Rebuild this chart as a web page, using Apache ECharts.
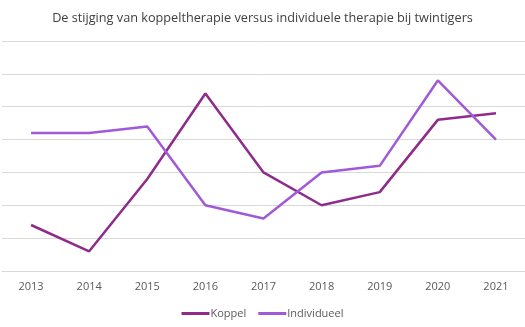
<!DOCTYPE html>
<html>
<head>
<meta charset="utf-8">
<script src="https://cdn.jsdelivr.net/npm/echarts@6/dist/echarts.min.js"></script>
<style>
html,body{margin:0;padding:0;background:#fff;}
#c{width:525px;height:327px;}
</style>
</head>
<body>
<div id="c"></div>
<script>
const years = ['2013','2014','2015','2016','2017','2018','2019','2020','2021'];
const koppel = [1.4, 0.6, 2.8, 5.4, 3.0, 2.0, 2.4, 4.6, 4.8];
const individueel = [4.2, 4.2, 4.4, 2.0, 1.6, 3.0, 3.2, 5.8, 4.0];

const chart = echarts.init(document.getElementById('c'), null, {renderer:'canvas'});
const FONT = '"Open Sans", "Noto Sans", sans-serif';
chart.setOption({
  animation: false,
  backgroundColor: '#ffffff',
  title: {
    text: 'De stijging van koppeltherapie versus individuele therapie bij twintigers',
    left: 'center', top: 7,
    textStyle: {fontFamily: FONT, fontSize: 12.7, fontWeight: 'normal', color: '#404040'}
  },
  legend: {
    bottom: 3, left: 'center',
    itemWidth: 28, itemHeight: 3, itemGap: 12,
    icon: 'rect',
    textStyle: {fontFamily: FONT, fontSize: 11, color: '#595959', padding: [0,0,0,-4]},
    data: ['Koppel', 'Individueel']
  },
  grid: {left: 2, top: 41, height: 230, width: 531, containLabel: false},
  xAxis: {
    type: 'category', data: years, boundaryGap: true,
    axisLine: {lineStyle: {color: '#D9D9D9'}},
    axisTick: {show: false},
    axisLabel: {fontFamily: FONT, fontSize: 11, color: '#595959', margin: 10}
  },
  yAxis: {
    type: 'value', min: 0, max: 7, interval: 1,
    axisLabel: {show: false}, axisLine: {show: false}, axisTick: {show: false},
    splitLine: {lineStyle: {color: '#D9D9D9', width: 1}}
  },
  series: [
    {name: 'Koppel', type: 'line', data: koppel, symbol: 'none',
     lineStyle: {color: '#8E2B8B', width: 2.5}, itemStyle: {color: '#8E2B8B'}},
    {name: 'Individueel', type: 'line', data: individueel, symbol: 'none',
     lineStyle: {color: '#A05AD8', width: 2.5}, itemStyle: {color: '#A05AD8'}}
  ]
});
</script>
</body>
</html>
